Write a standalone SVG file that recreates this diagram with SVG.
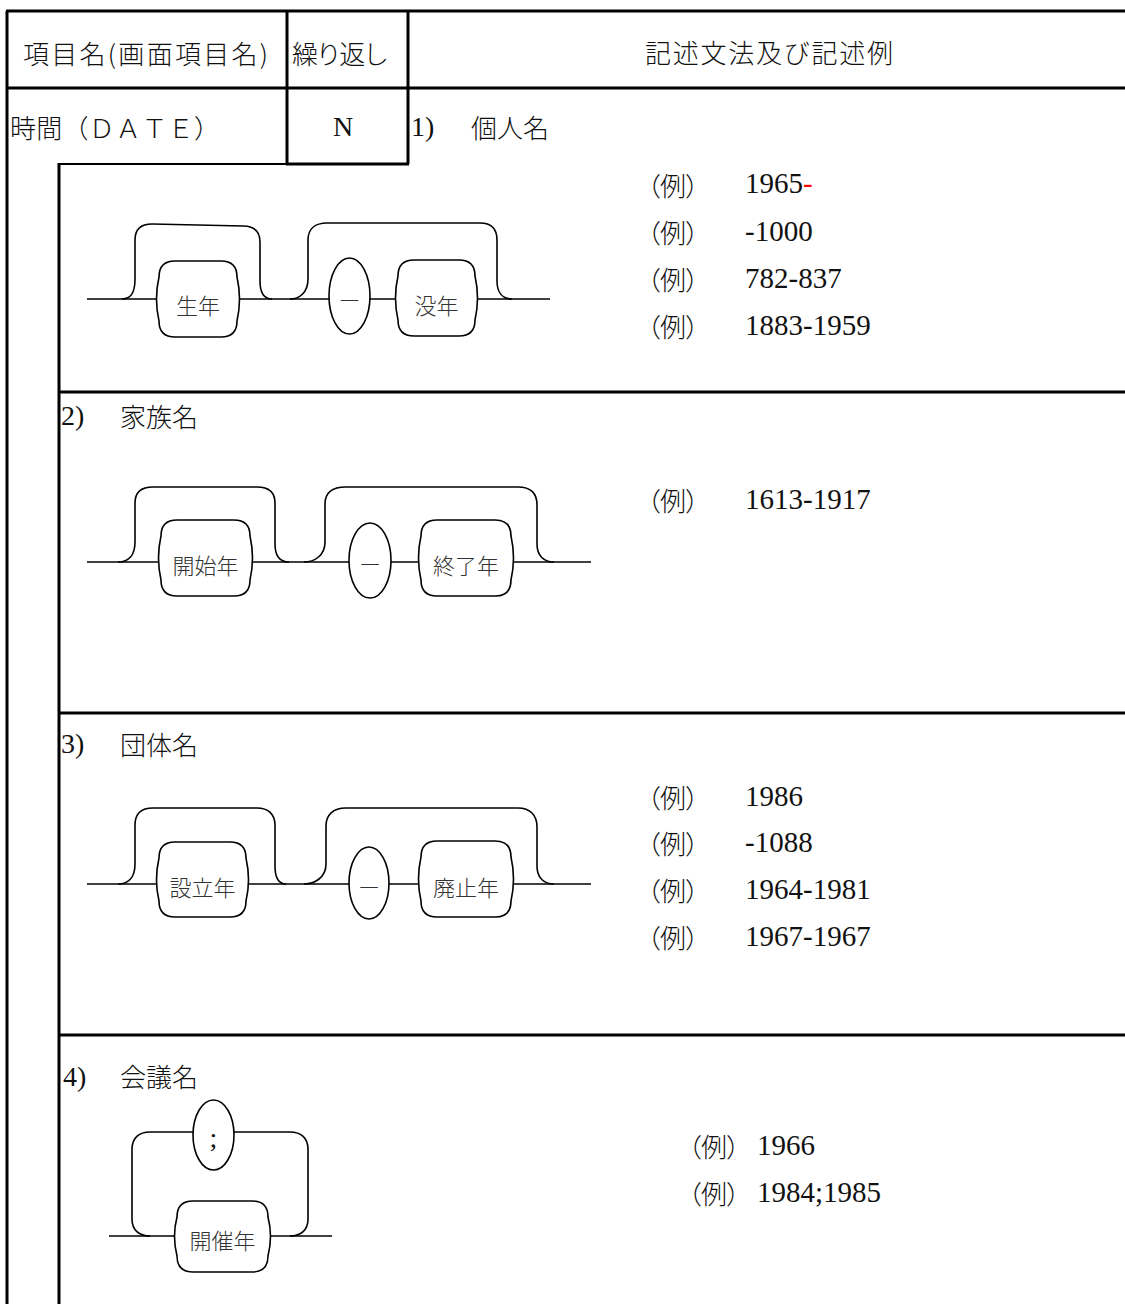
<svg xmlns="http://www.w3.org/2000/svg" width="1125" height="1304" viewBox="0 0 1125 1304">
<style>
.t{stroke:#000;stroke-width:3;fill:none}
.thin{stroke:#000;stroke-width:2;fill:none}
.d{stroke:#000;stroke-width:1.6;fill:none}
.box{fill:#fff;stroke:#000;stroke-width:1.6}
.jp{font-family:"Noto Sans CJK JP","Noto Sans CJK SC",sans-serif;font-size:26px;font-weight:300;fill:#111;dominant-baseline:central}
.ser{font-family:"Liberation Serif","Noto Sans CJK JP",serif;font-size:28px;fill:#111;dominant-baseline:central}
.lbl{font-family:"Noto Sans CJK JP","Noto Sans CJK SC",sans-serif;font-size:22px;font-weight:300;fill:#333;text-anchor:middle;dominant-baseline:central}
.ex{font-family:"Noto Sans CJK JP","Noto Sans CJK SC",sans-serif;font-size:26px;font-weight:300;fill:#111;font-feature-settings:"palt";dominant-baseline:central}
.num{font-family:"Liberation Serif",serif;font-size:29px;fill:#111;dominant-baseline:central}
</style>
<rect x="0" y="0" width="1125" height="1304" fill="#fff"/>

<g id="table">
  <line class="t" x1="6" y1="11" x2="1125" y2="11"/>
  <line class="t" x1="6" y1="88" x2="1125" y2="88"/>
  <line class="t" x1="7" y1="11" x2="7" y2="1304"/>
  <line class="t" x1="287" y1="11" x2="287" y2="164"/>
  <line class="t" x1="408" y1="11" x2="408" y2="164"/>
  <line class="t" x1="286" y1="164" x2="409" y2="164"/>
  <line class="thin" x1="59" y1="164" x2="287" y2="164"/>
  <line class="t" x1="59" y1="163" x2="59" y2="1304"/>
  <line class="t" x1="58" y1="392" x2="1125" y2="392"/>
  <line class="t" x1="58" y1="713" x2="1125" y2="713"/>
  <line class="t" x1="58" y1="1035" x2="1125" y2="1035"/>
</g>

<g id="header">
  <text class="jp" x="23" y="52" textLength="245" lengthAdjust="spacing">項目名(画面項目名)</text>
  <text class="jp" x="292" y="52" font-size="25" textLength="97" lengthAdjust="spacing">繰り返し</text>
  <text class="jp" x="645" y="51" font-size="28" textLength="248" lengthAdjust="spacing">記述文法及び記述例</text>
</g>

<g id="row-date">
  <text class="jp" x="10" y="126" textLength="210" lengthAdjust="spacing">時間（ＤＡＴＥ）</text>
  <text class="ser" x="343" y="126" text-anchor="middle">N</text>
</g>

<g id="section1">
  <text class="ser" x="411" y="126">1)</text>
  <text class="jp" x="471" y="126">個人名</text>
  <g id="s1-connectors">
    <line class="d" x1="87" y1="299" x2="550" y2="299"/>
    <path class="d" d="M122,299 C131,299 135,293 135,279 V240 C135,229 141,224 152,224 L243,226 C254,226 260,231 260,242 V281 C260,293 264,299 272,299"/>
    <path class="d" d="M290,299 C299,299 308,293 308,279 V240 C308,229 315,223 327,223 H480 C491,223 497,229 497,240 V281 C497,293 503,299 512,299"/>
  </g>
  <g id="s1-birth">
    <path class="box" d="M175,261 H221 Q237,261 237,277 Q242,299 237,321 Q237,337 221,337 H175 Q159,337 159,321 Q154,299 159,277 Q159,261 175,261 Z"/>
    <text class="lbl" x="198" y="304">生年</text>
  </g>
  <g id="s1-dash">
    <ellipse class="box" cx="349.5" cy="296" rx="20.5" ry="38"/>
    <text class="lbl" x="349.5" y="297" font-size="20">—</text>
  </g>
  <g id="s1-death">
    <path class="box" d="M414,260 H459 Q475,260 475,276 Q480,298 475,320 Q475,336 459,336 H414 Q398,336 398,320 Q393,298 398,276 Q398,260 414,260 Z"/>
    <text class="lbl" x="436.5" y="304">没年</text>
  </g>
  <g id="s1-examples">
    <text class="ex" x="647" y="184">（例）</text><text class="num" x="745" y="183">1965<tspan fill="#ff0000">-</tspan></text>
    <text class="ex" x="647" y="231">（例）</text><text class="num" x="745" y="231">-1000</text>
    <text class="ex" x="647" y="278">（例）</text><text class="num" x="745" y="278">782-837</text>
    <text class="ex" x="647" y="325">（例）</text><text class="num" x="745" y="325">1883-1959</text>
  </g>
</g>

<g id="section2">
  <text class="ser" x="61" y="415">2)</text>
  <text class="jp" x="120" y="415">家族名</text>
  <g id="s2-connectors">
    <line class="d" x1="87" y1="562" x2="591" y2="562"/>
    <path class="d" d="M118,562 C128,562 135,556 135,542 V503 C135,492 141,487 153,487 H257 C268,487 275,492 275,503 V544 C275,556 280,562 289,562"/>
    <path class="d" d="M304,562 C314,562 325,556 325,542 V504 C325,493 332,487 346,487 H518 C530,487 537,493 537,505 V544 C537,556 544,562 554,562"/>
  </g>
  <g id="s2-start">
    <path class="box" d="M177,520 H234 Q250,520 250,536 Q255,558 250,580 Q250,596 234,596 H177 Q161,596 161,580 Q156,558 161,536 Q161,520 177,520 Z"/>
    <text class="lbl" x="205.5" y="564">開始年</text>
  </g>
  <g id="s2-dash">
    <ellipse class="box" cx="370" cy="560.5" rx="21" ry="37.5"/>
    <text class="lbl" x="370" y="561" font-size="20">—</text>
  </g>
  <g id="s2-end">
    <path class="box" d="M437,520 H495 Q511,520 511,536 Q516,558 511,580 Q511,596 495,596 H437 Q421,596 421,580 Q416,558 421,536 Q421,520 437,520 Z"/>
    <text class="lbl" x="466" y="564">終了年</text>
  </g>
  <g id="s2-examples">
    <text class="ex" x="647" y="499">（例）</text><text class="num" x="745" y="499">1613-1917</text>
  </g>
</g>

<g id="section3">
  <text class="ser" x="61" y="743">3)</text>
  <text class="jp" x="120" y="743">団体名</text>
  <g id="s3-connectors">
    <line class="d" x1="87" y1="884" x2="591" y2="884"/>
    <path class="d" d="M118,884 C128,884 135,878 135,864 V825 C135,814 141,808 153,808 H257 C268,808 275,814 275,825 V866 C275,878 279,884 286,884"/>
    <path class="d" d="M304,884 C314,884 326,878 326,864 V826 C326,815 333,808 346,808 H518 C530,808 537,815 537,827 V866 C537,878 544,884 554,884"/>
  </g>
  <g id="s3-establish">
    <path class="box" d="M175,842 H230 Q246,842 246,858 Q251,880 246,901 Q246,917 230,917 H175 Q159,917 159,901 Q154,880 159,858 Q159,842 175,842 Z"/>
    <text class="lbl" x="202.5" y="886">設立年</text>
  </g>
  <g id="s3-dash">
    <ellipse class="box" cx="369" cy="883" rx="20" ry="36"/>
    <text class="lbl" x="369" y="884" font-size="20">—</text>
  </g>
  <g id="s3-abolish">
    <path class="box" d="M437,841 H495 Q511,841 511,857 Q516,879 511,901 Q511,917 495,917 H437 Q421,917 421,901 Q416,879 421,857 Q421,841 437,841 Z"/>
    <text class="lbl" x="466" y="886">廃止年</text>
  </g>
  <g id="s3-examples">
    <text class="ex" x="647" y="796">（例）</text><text class="num" x="745" y="796">1986</text>
    <text class="ex" x="647" y="842">（例）</text><text class="num" x="745" y="842">-1088</text>
    <text class="ex" x="647" y="889">（例）</text><text class="num" x="745" y="889">1964-1981</text>
    <text class="ex" x="647" y="936">（例）</text><text class="num" x="745" y="936">1967-1967</text>
  </g>
</g>

<g id="section4">
  <text class="ser" x="63" y="1076">4)</text>
  <text class="jp" x="120" y="1075">会議名</text>
  <g id="s4-connectors">
    <line class="d" x1="109" y1="1236" x2="332" y2="1236"/>
    <path class="d" d="M150,1236 C139,1236 132,1230 132,1219 V1149 C132,1138 139,1132 150,1132 H290 C301,1132 308,1138 308,1149 V1219 C308,1230 301,1236 290,1236"/>
  </g>
  <g id="s4-semicolon">
    <ellipse class="box" cx="213.5" cy="1135" rx="20.5" ry="35"/>
    <text class="ser" x="213.5" y="1137" font-size="22" text-anchor="middle">;</text>
  </g>
  <g id="s4-held">
    <path class="box" d="M193,1201 H252 Q268,1201 268,1217 Q273,1236 268,1256 Q268,1272 252,1272 H193 Q177,1272 177,1256 Q172,1236 177,1217 Q177,1201 193,1201 Z"/>
    <text class="lbl" x="222.5" y="1239">開催年</text>
  </g>
  <g id="s4-examples">
    <text class="ex" x="688" y="1145">（例）</text><text class="num" x="757" y="1145">1966</text>
    <text class="ex" x="688" y="1192">（例）</text><text class="num" x="757" y="1192">1984;1985</text>
  </g>
</g>
</svg>
